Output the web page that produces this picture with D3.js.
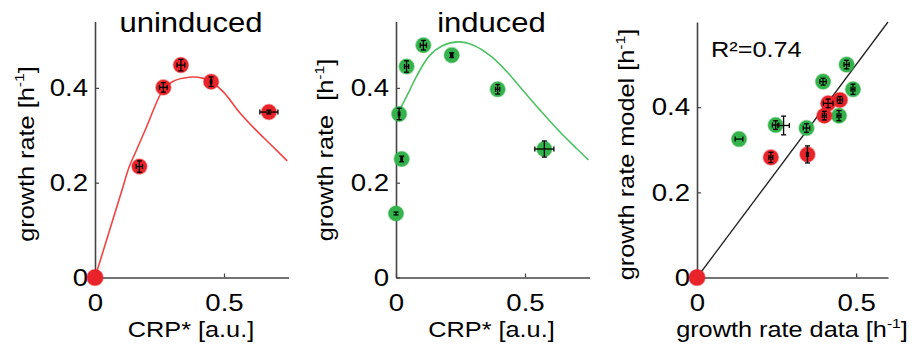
<!DOCTYPE HTML>
<html lang="en">
<head>
    <meta http-equiv="Content-Type" content="text/html; charset=utf-8">
    <title>Growth rate vs CRP*</title>
    <script src="https://cdn.jsdelivr.net/npm/d3@7"></script>
    <style type="text/css">
        html,body{margin:0;padding:0;background:#fff}
        #svgWrap{width:917px;height:348px}
    </style>
</head>
<body>
<div id="svgWrap"></div>
<script type="text/javascript">
// measured points: [x, y, xerr, yerr]
var uninducedPts=[[0.172,0.234,0.012,0.012],[0.265,0.401,0.015,0.010],[0.333,0.448,0.015,0.012],
    [0.450,0.413,0.003,0.010],[0.674,0.349,0.035,0.004]];
var uninducedCurve=[[0,0],[0.05,0.088],[0.10,0.176],[0.133,0.234],[0.161,0.269],[0.20,0.318],[0.23,0.358],
    [0.258,0.390],[0.30,0.413],[0.365,0.4225],[0.42,0.420],[0.45,0.413],[0.50,0.390],[0.562,0.347],
    [0.62,0.313],[0.68,0.281],[0.745,0.246]];
var inducedPts=[[0.000,0.135,0,0.003],[0.022,0.250,0.003,0.006],[0.012,0.345,0.003,0.012],[0.041,0.445,0.008,0.012],
    [0.106,0.490,0.012,0.010],[0.216,0.469,0.004,0.005],[0.394,0.397,0.008,0.010],[0.575,0.271,0.037,0.017]];
var inducedCurve=[[0.016,0.355],[0.054,0.396],[0.08,0.425],[0.13,0.468],[0.18,0.489],[0.241,0.497],[0.30,0.490],
    [0.37,0.466],[0.43,0.434],[0.49,0.396],[0.56,0.352],[0.63,0.310],[0.70,0.272],[0.746,0.248]];
// model vs data: [data, model, xerr, yerr]
var fitGreen=[[0.132,0.325,0.012,0],[0.247,0.358,0.010,0.010],[0.344,0.351,0.010,0.010],[0.396,0.460,0.010,0.008],
    [0.470,0.500,0.008,0.010],[0.490,0.442,0.006,0.012],[0.446,0.380,0.006,0.012]];
var fitGreenBarsOnly=[[0.272,0.357,0.018,0.022]];
var fitRed=[[0.232,0.282,0.006,0.012],[0.347,0.289,0.003,0.020],[0.400,0.380,0.006,0.010],
    [0.412,0.409,0.015,0.010],[0.449,0.417,0.008,0.008]];
var originPt=[[0,0,0,0]];
var identityLine=[[0,0],[0.6,0.6]];
var xTicksCRP=[0,0.5], yTicksRate=[0,0.2,0.4];
var titles=["uninduced","induced"];
var rSquared="R\u00b2=0.74";

var FONT="'Liberation Sans', Arial, Helvetica, sans-serif";
var STRETCH=1.15;// reference text is a bit wider than Arial
var RED="#e8232a", GREEN="#34b24b", RED_LINE="#f04444", GREEN_LINE="#4cc263";
var svg=d3.select("#svgWrap").append("svg").attr("width",917).attr("height",348);

function fmt(d){return d===0?"0":d3.format(".1f")(d);}

function stretchText(sel) {
    sel.each(function(){
        var t=d3.select(this);
        var x=+t.attr("x")||0, y=+t.attr("y")||0;
        t.attr("x",null).attr("y",null)
            .attr("transform","translate("+x+","+y+") scale("+STRETCH+",1)");
    });
}

function setupPanel(p) {
    var x=d3.scaleLinear().domain([0,p.xMax]).range([p.left,p.right]);
    var y=d3.scaleLinear().domain([0,p.yMax]).range([p.bottom,p.top]);
    var gx=svg.append("g").attr("transform","translate(0,"+p.bottom+")")
        .call(d3.axisBottom(x).tickValues(p.xTicks).tickFormat(fmt).tickSizeInner(-4).tickSizeOuter(0).tickPadding(16));
    var gy=svg.append("g").attr("transform","translate("+p.left+",0)")
        .call(d3.axisLeft(y).tickValues(p.yTicks).tickFormat(fmt).tickSizeInner(-4).tickSizeOuter(0).tickPadding(7));
    [gx,gy].forEach(function(g){
        g.select(".domain").attr("stroke","#444").attr("stroke-width",1.6);
        g.selectAll(".tick line").attr("stroke","#444").attr("stroke-width",1.2);
        g.selectAll(".tick text").attr("font-family",FONT).attr("font-size","24px").attr("fill","#000");
        stretchText(g.selectAll(".tick text"));
    });
    return {x:x,y:y};
}

function addLabel(x,y,rot,size,anchor,pre,sup,post) {
    var t=svg.append("text")
        .attr("transform","translate("+x+","+y+") rotate("+rot+") scale("+STRETCH+",1)")
        .attr("text-anchor",anchor)
        .attr("font-family",FONT).attr("font-size",size+"px").attr("fill","#000")
        .style("white-space","pre");
    t.append("tspan").text(pre);
    if(sup) {
        t.append("tspan").attr("font-size",(size*0.62)+"px").attr("dy",-size*0.42).text(sup);
        t.append("tspan").attr("dy",size*0.42).text(post);
    }
}

function drawCurve(s,data,color,width) {
    svg.append("path")
        .datum(data)
        .attr("fill","none")
        .attr("stroke",color)
        .attr("stroke-width",width)
        .attr("d",d3.line().x(function(d){return s.x(d[0])}).y(function(d){return s.y(d[1])}).curve(d3.curveCatmullRom));
}

function drawPoints(s,data,color,r) {
    svg.append("g").selectAll("circle").data(data).enter().append("circle")
        .attr("cx",function(d){return s.x(d[0])})
        .attr("cy",function(d){return s.y(d[1])})
        .attr("r",r)
        .attr("fill",color)
        .attr("stroke",color).attr("stroke-opacity",0.45).attr("stroke-width",1.6);
}

function drawErrorBars(s,data) {
    var g=svg.append("g").attr("stroke","#000").attr("stroke-width",1.3);
    var cap=2.5;
    data.forEach(function(d){
        var cx=s.x(d[0]), cy=s.y(d[1]);
        if(d[2]>0) {
            var x0=s.x(d[0]-d[2]), x1=s.x(d[0]+d[2]);
            g.append("line").attr("x1",x0).attr("x2",x1).attr("y1",cy).attr("y2",cy);
            g.append("line").attr("x1",x0).attr("x2",x0).attr("y1",cy-cap).attr("y2",cy+cap);
            g.append("line").attr("x1",x1).attr("x2",x1).attr("y1",cy-cap).attr("y2",cy+cap);
        }
        if(d[3]>0) {
            var y0=s.y(d[1]-d[3]), y1=s.y(d[1]+d[3]);
            g.append("line").attr("x1",cx).attr("x2",cx).attr("y1",y0).attr("y2",y1);
            g.append("line").attr("x1",cx-cap).attr("x2",cx+cap).attr("y1",y0).attr("y2",y0);
            g.append("line").attr("x1",cx-cap).attr("x2",cx+cap).attr("y1",y1).attr("y2",y1);
        }
    });
}

// panel 1: uninduced
var s1=setupPanel({left:95,right:288.5,top:21.5,bottom:277.5,xMax:0.75,yMax:0.54,xTicks:xTicksCRP,yTicks:yTicksRate});
drawCurve(s1,uninducedCurve,RED_LINE,1.6);
drawPoints(s1,uninducedPts,RED,7.5);
drawPoints(s1,originPt,RED,8);
drawErrorBars(s1,uninducedPts);
addLabel(191,32,0,27,"middle",titles[0]);
addLabel(191,337,0,22,"middle","CRP* [a.u.]");
addLabel(33.5,154,-90,22,"middle","growth rate [h","-1","]");

// panel 2: induced
var s2=setupPanel({left:396,right:589.5,top:21.5,bottom:277.5,xMax:0.75,yMax:0.54,xTicks:xTicksCRP,yTicks:yTicksRate});
drawCurve(s2,inducedCurve,GREEN_LINE,1.6);
drawPoints(s2,inducedPts,GREEN,7.5);
drawErrorBars(s2,inducedPts);
addLabel(491.5,32,0,27,"middle",titles[1]);
addLabel(491.5,337,0,22,"middle","CRP* [a.u.]");
addLabel(333,150,-90,22,"middle","growth rate  [h","-1","]");

// panel 3: model vs data
var s3=setupPanel({left:697,right:888,top:22,bottom:277.5,xMax:0.6,yMax:0.6,xTicks:xTicksCRP,yTicks:yTicksRate});
drawCurve(s3,identityLine,"#222",1.3);
drawPoints(s3,fitGreen,GREEN,7.5);
drawPoints(s3,fitRed,RED,7.5);
drawPoints(s3,originPt,RED,8);
drawErrorBars(s3,fitGreen);
drawErrorBars(s3,fitGreenBarsOnly);
drawErrorBars(s3,fitRed);
addLabel(711,56.5,0,22,"start",rSquared);
addLabel(792,337,0,22,"middle","growth rate data [h","-1","]");
addLabel(634,154.5,-90,22,"middle","growth rate model [h","-1","]");
</script>
</body>
</html>
